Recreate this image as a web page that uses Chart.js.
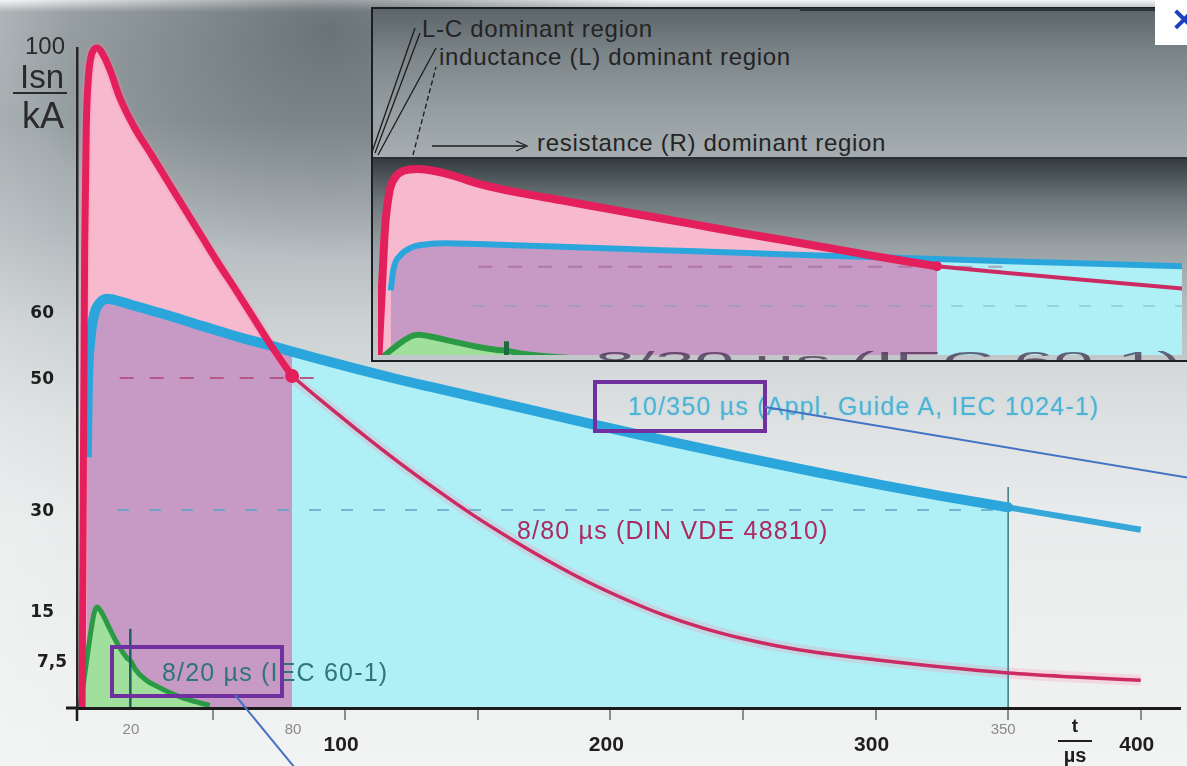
<!DOCTYPE html>
<html>
<head>
<meta charset="utf-8">
<script src="https://cdn.jsdelivr.net/npm/chart.js@4.4.1/dist/chart.umd.min.js"></script>
<style>
  html, body { margin: 0; padding: 0; }
  #wrap {
    position: relative; width: 1187px; height: 766px; overflow: hidden;
    font-family: "Liberation Sans", Arial, sans-serif;
    background:
      linear-gradient(to right, rgba(255,255,255,0.12), rgba(255,255,255,0) 70px),
      radial-gradient(ellipse 330px 230px at 330px 30px, rgba(60,70,75,0.55), rgba(60,70,75,0)),
      linear-gradient(to bottom, #f4f5f5 0px, #a3abae 12px, #9aa3a6 120px, #b2b9bc 230px, #cbd0d2 320px, #dde1e2 420px, #e9ecec 520px, #f2f3f3 766px);
  }
  #main { position: absolute; left: 0; top: 0; }
  #inset {
    position: absolute; left: 371px; top: 7px; width: 830px; height: 351px;
    border: 2px solid #1b1f21; border-right: none; overflow: hidden;
  }
  #insetTop {
    position: absolute; left: 0; top: 0; width: 100%; height: 148px;
    background: linear-gradient(to bottom, #5b6468, #7b8487 30%, #939c9f 65%, #a5adb0);
  }
  #insetDivider { position: absolute; left: 0; top: 148px; width: 100%; height: 2px; background: #2a3134; }
  #insetChartBox {
    position: absolute; left: 0; top: 150px; width: 814px; height: 201px;
    background: linear-gradient(to bottom, #343c40 0%, #6c7579 20%, #9aa2a5 45%, #b3babd 70%, #c3c9cb 100%);
  }
  .note { position: absolute; white-space: nowrap; font-size: 24px; line-height: 24px; letter-spacing: 0.7px; color: #242424; }
  .ann { position: absolute; white-space: nowrap; font-size: 25px; line-height: 25px; letter-spacing: 1.2px; }
  #corner { position: absolute; left: 1155px; top: 0; width: 40px; height: 45px; background: #ffffff; overflow: hidden; }
  #corner span { position: absolute; left: 15px; top: -2px; font: bold 34px "DejaVu Sans", sans-serif; color: #1d3fc4; }
  #topline { position: absolute; left: 800px; top: 8px; width: 355px; height: 3px; background: #2c3437; }
  #overlay { position: absolute; left: 0; top: 0; }
</style>
</head>
<body>
<div id="wrap">
  <canvas id="main" width="1187" height="766"></canvas>

  <div id="inset">
    <div id="insetTop">
      <svg width="816" height="148" style="position:absolute;left:0;top:0;overflow:visible">
        <g stroke="#1c1c1c" stroke-width="1.3" fill="none">
          <line x1="-2" y1="146" x2="42" y2="19"/>
          <line x1="2" y1="144" x2="47" y2="24"/>
          <line x1="5" y1="146" x2="63" y2="39"/>
          <line x1="40" y1="146" x2="63" y2="58" stroke-dasharray="5,3"/>
          <line x1="59" y1="137" x2="152" y2="137"/>
          <path d="M143,132 L154,137 L143,142"/>
        </g>
      </svg>
      <div class="note" style="left:49px;top:8px">L-C dominant region</div>
      <div class="note" style="left:66px;top:36px">inductance (L) dominant region</div>
      <div class="note" style="left:164px;top:122px">resistance (R) dominant region</div>
    </div>
    <div id="insetDivider"></div>
    <div id="insetChartBox"><canvas id="insetChart" width="814" height="201"></canvas></div>
  </div>

  <div id="topline"></div>
  <div id="corner"><span>×</span></div>

  <div class="ann" style="left:162px;top:660px;color:#2e7577">8/20 µs (IEC 60-1)</div>
  <div class="ann" style="left:628px;top:394px;color:#4cb3d4;text-shadow:0 0 2px rgba(120,200,230,0.6)">10/350 µs (Appl. Guide A, IEC 1024-1)</div>
  <div class="ann" style="left:517px;top:518px;color:#ad2a60">8/80 µs (DIN VDE 48810)</div>

  <svg id="overlay" width="1187" height="766">
    <rect x="112" y="647" width="170" height="49" fill="none" stroke="#7030a0" stroke-width="4"/>
    <rect x="595" y="382" width="170" height="49" fill="none" stroke="#7030a0" stroke-width="4"/>
    <line x1="235" y1="695" x2="295" y2="768" stroke="#4472c4" stroke-width="2"/>
    <line x1="765" y1="407" x2="1190" y2="478" stroke="#4472c4" stroke-width="2"/>
  </svg>
</div>

<script>
// waveforms, t in µs, I in kA
const redT = [0.8, 1.3, 1.8, 2.4, 3.2, 4.4, 6.4, 9, 11.5, 15, 20.5, 27, 34, 40, 46, 52, 59, 65, 71, 76, 80,
              90, 105, 120, 134, 148, 163, 177, 191, 206, 220, 235, 249, 263, 278, 300, 325, 350, 375, 400];
const redI = [0, 35, 70, 88, 95.5, 99, 100, 98.8, 96.5, 92.5, 88, 83.8, 79.2, 75.3, 71.4, 67.5, 63.2, 59.4, 55.6, 52.6, 50.3,
              46.9, 42, 37.3, 33.2, 29.3, 25.5, 22.2, 19.2, 16.4, 14.1, 12.1, 10.6, 9.4, 8.4, 7.3, 6.2, 5.3, 4.7, 4.2];

const blueT = [2.6, 3, 4, 5.5, 7.5, 10.5, 15, 21, 34, 46, 60, 72, 80, 90, 105, 121, 134, 163, 191, 220, 249, 278, 302, 325, 350, 375, 400];
const blueI = [38, 49, 56, 59.8, 61.4, 62, 61.6, 60.9, 59.4, 57.9, 56.2, 54.9, 54, 52.9, 51.3, 49.7, 48.5, 45.8, 43.2, 40.6, 38.1, 35.7, 33.8, 32.1, 30.4, 28.7, 27];

const greenT = [0, 1.6, 3, 4.4, 5.5, 6.5, 8, 11.5, 14.5, 17.7, 19.2, 21, 25, 29.5, 34, 39, 45, 49];
const greenI = [0, 4.5, 8.5, 12.3, 14.6, 15.3, 14.6, 11.8, 9.5, 7.6, 7.1, 5.8, 4.2, 3.2, 2.3, 1.5, 0.8, 0.4];

// dashed reference levels and vertical markers
const refLevelI = [50, 30];
const refLevelFrom = [15, 14];
const refLevelTo = [91, 348];
const markerT = [19, 350];
const markerTop = [12, 33.5];

// axis labels
const yTickValues = [100, 60, 50, 30, 15, 7.5];
const yTickLabels = ['100', '60', '50', '30', '15', '7,5'];
const xMajorValues = [100, 200, 300, 400];
const xMinorValues = [20, 80, 350];
const xTickMarks = [0, 50, 100, 150, 200, 250, 300, 350, 400];

function pts(T, I, from, to) {
  var out = [];
  for (var i = 0; i < T.length; i++) {
    if (T[i] >= from && T[i] <= to) out.push({x: T[i], y: I[i]});
  }
  return out;
}

function valueAt(T, I, t) {
  return I[T.indexOf(t)];
}

function line(points, opts) {
  return Object.assign({
    type: 'line', data: points, pointRadius: 0, borderWidth: 0, fill: false,
    cubicInterpolationMode: 'monotone', borderColor: 'transparent'
  }, opts);
}

function buildDatasets(w) {
  var sets = [
    line(pts(redT, redI, 0, 80), {fill: 'origin', backgroundColor: '#f6b9ce', order: 30}),
    line(pts(blueT, blueI, 0, 80), {fill: 'origin', backgroundColor: '#c79ac6', order: 29}),
    line(pts(blueT, blueI, 80, 350), {fill: 'origin', backgroundColor: '#aef0f6', order: 28}),
    line(pts(greenT, greenI, 0, 60), {fill: 'origin', backgroundColor: '#a0df9c', borderColor: '#2a9a45', borderWidth: w.green, order: 20})
  ];
  if (w.halo) {
    sets.push(line(pts(redT, redI, 0, 400), {borderColor: 'rgba(255,140,175,0.25)', borderWidth: w.halo, order: 26}));
  }
  for (var i = 0; i < refLevelI.length; i++) {
    sets.push(line([{x: refLevelFrom[i], y: refLevelI[i]}, {x: refLevelTo[i], y: refLevelI[i]}], {
      borderColor: i == 0 ? w.dash50 : w.dash30, borderWidth: i == 0 ? 2 : 1.5,
      borderDash: i == 0 ? [14, 16] : [12, 20], order: 25
    }));
  }
  for (var j = 0; j < markerT.length; j++) {
    sets.push(line([{x: markerT[j], y: 0}, {x: markerT[j], y: markerTop[j]}], {
      borderColor: j == 0 ? w.markColor : '#3a7a80', borderWidth: j == 0 ? w.mark : 1.5, order: 19
    }));
  }
  sets.push(line(pts(blueT, blueI, 350, 400), {borderColor: '#35a7d8', borderWidth: w.blueTail, order: 8}));
  sets.push(line(pts(blueT, blueI, 0, 350), {borderColor: '#2ba6dc', borderWidth: w.blue, order: 7}));
  sets.push(line(pts(redT, redI, 80, 400), {borderColor: '#cc2a62', borderWidth: w.redTail, order: 5}));
  sets.push(line(pts(redT, redI, 0, 80), {borderColor: '#e4205c', borderWidth: w.red, order: 4}));
  sets.push({
    type: 'line', showLine: false, order: 1,
    data: [{x: 80, y: valueAt(redT, redI, 80)}, {x: 350, y: valueAt(blueT, blueI, 350)}],
    pointRadius: [w.dot, 5], pointBorderWidth: 0,
    pointBackgroundColor: ['#e4205c', '#2ea4d8']
  });
  return sets;
}

const axisText = {
  id: 'axisText',
  afterDraw: function (chart) {
    var ctx = chart.ctx, x = chart.scales.x, y = chart.scales.y;
    ctx.save();
    ctx.fillStyle = '#1e1e1e';
    ctx.textBaseline = 'middle';
    ctx.textAlign = 'right';
    for (var i = 0; i < yTickValues.length; i++) {
      var v = yTickValues[i], py = y.getPixelForValue(v);
      if (v == 100) {
        ctx.font = '24px "Liberation Sans"';
        ctx.fillStyle = '#2a2a2a';
        ctx.fillText(yTickLabels[i], 65, py - 1);
      } else {
        ctx.font = 'bold 17px "DejaVu Sans"';
        ctx.fillStyle = '#1e1e1e';
        ctx.fillText(yTickLabels[i], v == 7.5 ? 67 : 54, py + (v < 20 ? 4 : 2));
      }
    }
    // unit Isn / kA
    ctx.fillStyle = '#2a2a2a';
    ctx.textAlign = 'center';
    ctx.textBaseline = 'alphabetic';
    ctx.font = '33px "Liberation Sans"';
    ctx.fillText('Isn', 42, 88);
    ctx.font = '36px "Liberation Sans"';
    ctx.fillText('kA', 43, 128);
    ctx.fillRect(13, 92, 54, 2);

    ctx.textBaseline = 'middle';
    ctx.font = 'bold 21px "Liberation Sans"';
    ctx.fillStyle = '#1e1e1e';
    xMajorValues.forEach(function (v) {
      ctx.fillText(String(v), x.getPixelForValue(v) - 4, 745);
    });
    ctx.font = '15px "Liberation Sans"';
    ctx.fillStyle = '#8a8a8a';
    xMinorValues.forEach(function (v) {
      ctx.fillText(String(v), x.getPixelForValue(v) + (v == 350 ? -5 : (v == 20 ? -2 : 1)), 730);
    });
    // unit t / µs
    ctx.fillStyle = '#1e1e1e';
    ctx.font = 'bold 19px "Liberation Sans"';
    ctx.fillText('t', 1075, 727);
    ctx.fillRect(1058, 740, 34, 2);
    ctx.font = 'bold 20px "Liberation Sans"';
    ctx.fillText('µs', 1075, 756);
    // axis lines reach a little past the origin
    ctx.fillStyle = '#1b1b1b';
    ctx.fillRect(66, 706.5, 12, 3);
    ctx.fillRect(75.75, 708, 2.5, 13);
    ctx.restore();
  }
};

new Chart(document.getElementById('main'), {
  type: 'line',
  data: {
    datasets: buildDatasets({red: 7, redTail: 3.5, blue: 10, blueTail: 6, green: 5, halo: 11,
      mark: 2.5, markColor: '#1e5f62', dot: 7, dash50: '#b8578a', dash30: '#5aa5c9'})
      .map(function (d) { d.clip = false; return d; })
  },
  options: {
    responsive: false,
    animation: false,
    devicePixelRatio: 1,
    layout: {padding: {left: 77, right: 7, top: 48, bottom: 46}},
    plugins: {legend: {display: false}, tooltip: {enabled: false}},
    scales: {
      x: {
        type: 'linear', min: -1.1, max: 414.8,
        afterBuildTicks: function (s) { s.ticks = xTickMarks.map(function (v) { return {value: v}; }); },
        ticks: {display: false},
        grid: {
          z: 1, drawOnChartArea: false, drawTicks: true, tickLength: 12, lineWidth: 2,
          color: function (c) { return c.tick && c.tick.value === 0 ? 'rgba(0,0,0,0)' : '#8c8c8c'; }
        },
        border: {display: true, color: '#1b1b1b', width: 3, z: 1}
      },
      y: {
        type: 'linear', min: 0, max: 100,
        ticks: {display: false},
        grid: {display: false, drawTicks: false},
        border: {display: true, color: '#262626', width: 2.5, z: 1}
      }
    }
  },
  plugins: [axisText]
});

const insetText = {
  id: 'insetText',
  afterDatasetsDraw: function (chart) {
    var ctx = chart.ctx;
    ctx.save();
    ctx.translate(222, 211);
    ctx.scale(2.75, 1);
    ctx.font = '26px "Liberation Sans"';
    ctx.fillStyle = 'rgba(60,40,70,0.7)';
    ctx.fillText('8/20 µs (IEC 60-1)', 0, 0);
    ctx.restore();
  }
};

new Chart(document.getElementById('insetChart'), {
  type: 'line',
  data: {
    datasets: buildDatasets({red: 8, redTail: 4, blue: 6, blueTail: 6, green: 6, halo: 0,
      mark: 5, markColor: '#1d6a3c', dot: 5, dash50: 'rgba(150,70,120,0.45)', dash30: 'rgba(90,160,190,0.45)'})
  },
  options: {
    responsive: false,
    animation: false,
    devicePixelRatio: 1,
    layout: {padding: 0},
    plugins: {legend: {display: false}, tooltip: {enabled: false}},
    scales: {
      x: {type: 'linear', display: false, min: 0.8, max: 114.7},
      y: {type: 'linear', display: false, min: 5, max: 102.5}
    }
  },
  plugins: [insetText]
});
</script>
</body>
</html>
